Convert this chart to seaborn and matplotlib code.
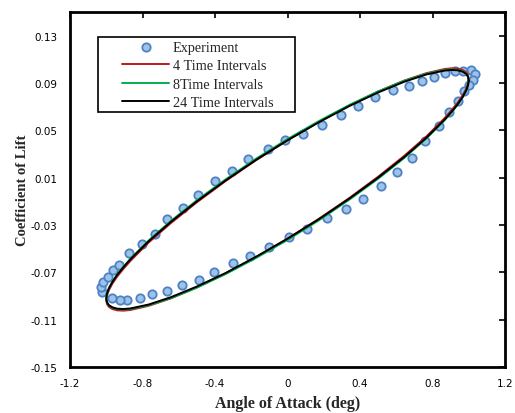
import numpy as np
import pandas as pd
import matplotlib
matplotlib.use("Agg")
import matplotlib.pyplot as plt
from matplotlib.patches import Rectangle
import seaborn as sns

# ---------------- data ----------------
exp_alpha = [1.011, 1.034, 1.025, 1.001, 0.974, 0.942, 0.893, 0.838, 0.760, 0.685,
             0.606, 0.514, 0.418, 0.321, 0.216, 0.109, 0.008, -0.100, -0.207, -0.299,
             -0.404, -0.490, -0.584, -0.667, -0.746, -0.814, -0.887, -0.924, -0.970, -1.022,
             -1.031, -1.016, -0.992, -0.965, -0.928, -0.873, -0.805, -0.731, -0.663, -0.575,
             -0.492, -0.400, -0.308, -0.216, -0.106, -0.014, 0.087, 0.192, 0.295, 0.391,
             0.485, 0.582, 0.669, 0.740, 0.808, 0.871, 0.924, 0.970]
exp_cl = [0.1012, 0.0976, 0.0928, 0.0886, 0.0830, 0.0750, 0.0652, 0.0539, 0.0407, 0.0266,
          0.0150, 0.0029, -0.0081, -0.0165, -0.0241, -0.0334, -0.0405, -0.0489, -0.0560, -0.0622,
          -0.0695, -0.0763, -0.0805, -0.0856, -0.0881, -0.0915, -0.0932, -0.0932, -0.0918, -0.0864,
          -0.0827, -0.0785, -0.0738, -0.0681, -0.0639, -0.0540, -0.0461, -0.0377, -0.0250, -0.0159,
          -0.0047, 0.0069, 0.0159, 0.0257, 0.0342, 0.0418, 0.0469, 0.0542, 0.0632, 0.0708,
          0.0781, 0.0841, 0.0877, 0.0914, 0.0948, 0.0982, 0.0999, 0.0999]

model_alpha = [1.000, 0.996, 0.985, 0.966, 0.940, 0.906, 0.866, 0.766, 0.643, 0.500,
               0.342, 0.174, 0.000, -0.174, -0.342, -0.500, -0.643, -0.766, -0.866, -0.906,
               -0.940, -0.966, -0.985, -0.996, -1.000, -0.996, -0.985, -0.966, -0.940, -0.906,
               -0.866, -0.766, -0.643, -0.500, -0.342, -0.174, 0.000, 0.174, 0.342, 0.500,
               0.643, 0.766, 0.866, 0.906, 0.940, 0.966, 0.985, 0.996, 1.000]

cl_4 = [0.0935, 0.0968, 0.0993, 0.1010, 0.1021, 0.1024, 0.1018, 0.0983, 0.0920, 0.0828,
        0.0711, 0.0572, 0.0416, 0.0247, 0.0071, -0.0108, -0.0283, -0.0448, -0.0602, -0.0672,
        -0.0736, -0.0795, -0.0849, -0.0895, -0.0935, -0.0968, -0.0993, -0.1010, -0.1021, -0.1024,
        -0.1018, -0.0983, -0.0920, -0.0828, -0.0711, -0.0572, -0.0416, -0.0247, -0.0071, 0.0108,
        0.0283, 0.0448, 0.0602, 0.0672, 0.0736, 0.0795, 0.0849, 0.0895, 0.0935]

cl_8 = [0.0920, 0.0954, 0.0980, 0.0999, 0.1010, 0.1014, 0.1010, 0.0978, 0.0918, 0.0829,
        0.0715, 0.0579, 0.0426, 0.0260, 0.0085, -0.0091, -0.0265, -0.0431, -0.0584, -0.0654,
        -0.0719, -0.0778, -0.0832, -0.0879, -0.0920, -0.0954, -0.0980, -0.0999, -0.1010, -0.1014,
        -0.1010, -0.0978, -0.0918, -0.0829, -0.0715, -0.0579, -0.0426, -0.0260, -0.0085, 0.0091,
        0.0265, 0.0431, 0.0584, 0.0654, 0.0719, 0.0778, 0.0832, 0.0879, 0.0920]

cl_24 = [0.0920, 0.0953, 0.0978, 0.0996, 0.1007, 0.1010, 0.1005, 0.0972, 0.0910, 0.0820,
         0.0706, 0.0569, 0.0416, 0.0250, 0.0076, -0.0100, -0.0273, -0.0437, -0.0589, -0.0658,
         -0.0722, -0.0781, -0.0834, -0.0880, -0.0920, -0.0953, -0.0978, -0.0996, -0.1007, -0.1010,
         -0.1005, -0.0972, -0.0910, -0.0820, -0.0706, -0.0569, -0.0416, -0.0250, -0.0076, 0.0100,
         0.0273, 0.0437, 0.0589, 0.0658, 0.0722, 0.0781, 0.0834, 0.0880, 0.0920]

x_ticks = [-1.2, -0.8, -0.4, 0, 0.4, 0.8, 1.2]
x_tick_labels = ["-1.2", "-0.8", "-0.4", "0", "0.4", "0.8", "1.2"]
y_ticks = [-0.15, -0.11, -0.07, -0.03, 0.01, 0.05, 0.09, 0.13]
y_tick_labels = ["-0.15", "-0.11", "-0.07", "-0.03", "0.01", "0.05", "0.09", "0.13"]

# ---------------- plot ----------------
sns.set_theme(style="white")
plt.rcParams['font.family'] = ['DejaVu Sans']

fig = plt.figure(figsize=(5.15, 4.14), dpi=100)
ax = fig.add_axes([70/515, 1-368/414, 435/515, 355/414])

df_exp = pd.DataFrame({"alpha": exp_alpha, "cl": exp_cl})
sns.scatterplot(data=df_exp, x="alpha", y="cl", ax=ax, marker="o", s=36,
                facecolor="#9dc3e6", edgecolor="#4f81c7", linewidth=1.3,
                label="Experiment", zorder=3)

df_4 = pd.DataFrame({"alpha": model_alpha, "cl": cl_4})
df_8 = pd.DataFrame({"alpha": model_alpha, "cl": cl_8})
df_24 = pd.DataFrame({"alpha": model_alpha, "cl": cl_24})
sns.lineplot(data=df_4, x="alpha", y="cl", ax=ax, sort=False, estimator=None,
             color="#c0181e", linewidth=1.4, label="4 Time Intervals", zorder=4)
sns.lineplot(data=df_8, x="alpha", y="cl", ax=ax, sort=False, estimator=None,
             color="#00b050", linewidth=1.4, label="8Time Intervals", zorder=5)
sns.lineplot(data=df_24, x="alpha", y="cl", ax=ax, sort=False, estimator=None,
             color="black", linewidth=1.4, label="24 Time Intervals", zorder=6)

ax.set_xlim(-1.2, 1.2)
ax.set_ylim(-0.15, 0.15)
ax.set_xticks(x_ticks)
ax.set_xticklabels(x_tick_labels)
ax.set_yticks(y_ticks)
ax.set_yticklabels(y_tick_labels)
ax.tick_params(direction="in", length=4, width=1.2, colors="black",
               labelsize=7.5, pad=8, top=True, right=True,
               labeltop=False, labelright=False)
ax.tick_params(axis="y", pad=9)
for sp in ax.spines.values():
    sp.set_color("black")
    sp.set_linewidth(2.0)

ax.set_xlabel("Angle of Attack (deg)", family=["Liberation Serif"], fontweight="bold",
              fontsize=11.5, labelpad=5)
ax.set_ylabel("Coefficient of Lift", family=["Liberation Serif"], fontweight="bold",
              fontsize=10.5, labelpad=1.5)

# legend frame (wider horizontal padding than matplotlib's default)
ax.add_patch(Rectangle((28/435, 255/355), 197/435, 75/355, transform=ax.transAxes,
                       facecolor="white", edgecolor="black", linewidth=1.2, zorder=7))
leg = ax.legend(loc="upper left", bbox_to_anchor=(52/435, 326/355), frameon=False,
                prop={"family": "Liberation Serif", "size": 10.3},
                handlelength=3.3, handletextpad=0.25, labelspacing=0.38,
                borderpad=0.0, borderaxespad=0.0)
leg.set_zorder(8)
ax.grid(False)

fig.savefig("out.png", dpi=100)
